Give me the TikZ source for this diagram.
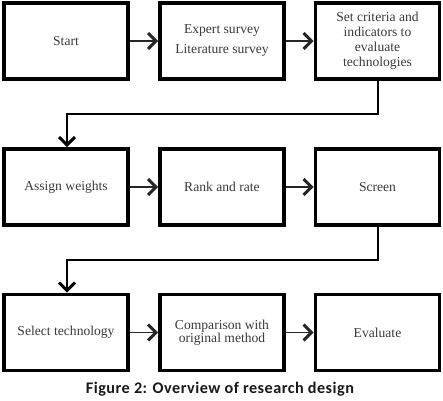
\documentclass[tikz,border=0pt]{standalone}
\usepackage{fontspec}
\setmainfont{Liberation Serif}
\newfontfamily\capfont[LetterSpace=3]{Carlito}
\usetikzlibrary{arrows.meta}
\definecolor{txtgray}{HTML}{3A3A3A}
\tikzset{
  x=1pt, y=-1pt,
  box/.style={draw=black, line width=3.6pt, minimum width=124pt, minimum height=76pt,
    align=center, inner sep=2pt, text=txtgray, font=\fontsize{13.6}{15}\selectfont},
  flow/.style={line width=1.3pt, draw=black!85,
    -{Straight Barb[length=8pt,width=16pt,line width=3pt]}},
  elbow/.style={line width=1.2pt, draw=black,
    -{Straight Barb[length=8pt,width=16pt,line width=3pt]}}
}
\begin{document}
\begin{tikzpicture}
\useasboundingbox (0,0) rectangle (443,400);
% row 1
\node[box] (start) at (66,41) {Start};
\node[box] (survey) at (222,41) {Expert survey\\[5pt]Literature survey};
\node[box] (criteria) at (377.5,41) {Set criteria and\\indicators to\\evaluate\\technologies};
% row 2
\node[box] (weights) at (66,187) {Assign weights};
\node[box] (rank) at (222,187) {Rank and rate};
\node[box] (screen) at (377.5,187) {Screen};
% row 3
\node[box] (select) at (66,332.5) {Select technology};
\node[box, font=\fontsize{13.6}{12.5}\selectfont] (compare) at (222,332.5) {Comparison with\\original method};
\node[box] (evaluate) at (377.5,332.5) {Evaluate};
% connectors
\draw[flow] (start.east) -- (survey.west);
\draw[flow] (survey.east) -- (criteria.west);
\draw[flow] (weights.east) -- (rank.west);
\draw[flow] (rank.east) -- (screen.west);
\draw[flow] (select.east) -- (compare.west);
\draw[flow] (compare.east) -- (evaluate.west);
\coordinate (c1) at (378,114);
\coordinate (c2) at (67,114);
\draw[elbow] (criteria.south -| c1) -- (c1) -- (c2) -- (c2 |- weights.north);
\coordinate (d1) at (378,260);
\coordinate (d2) at (67,260);
\draw[elbow] (screen.south -| d1) -- (d1) -- (d2) -- (d2 |- select.north);
% caption
\node[font=\capfont\bfseries\fontsize{16.2}{18}\selectfont, text=black!90] (cap) at (220,389) {Figure 2: Overview of research design};
\end{tikzpicture}
\end{document}
